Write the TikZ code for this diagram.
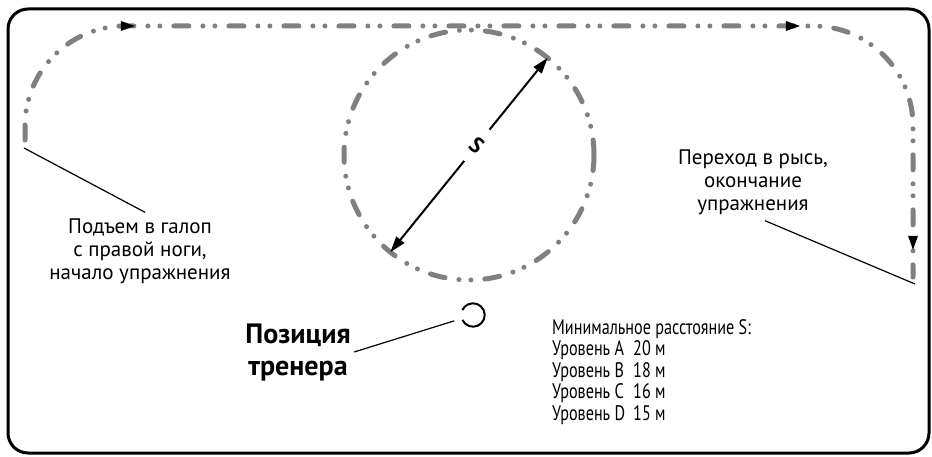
\documentclass[tikz,border=0pt]{standalone}
\usepackage{fontspec}
\setmainfont{PT Sans}
\newfontfamily\narrowsans{PT Sans}[FakeStretch=0.77]
\usetikzlibrary{shapes,arrows.meta,decorations.markings}
\pgfdeclarelayer{bg}
\pgfsetlayers{bg,main}
\def\grey#1{rgb,255:red,#1;green,#1;blue,#1}
\def\tracktip{Triangle[length=14pt,width=10pt,line width=0pt]}
\tikzset{
  track/.style={draw=\grey{128},line width=5pt,line cap=round,
    dash pattern=on 15pt off 14pt on 0pt off 12pt on 0pt off 14pt},
  leader/.style={line width=1.2pt},
  caption/.style={align=center,inner sep=6pt,font=\fontsize{21}{23}\selectfont},
}

\begin{document}
\begin{tikzpicture}[x=1pt,y=1pt]
\useasboundingbox (0,0) rectangle (932,-457);

% Draw the frame...
\draw[line width=3pt,rounded corners=20pt] (8,-9) rectangle (929,-453);

% Draw the nodes...
\node (manege) at (   469,  -155) [shape=circle,minimum size=250pt,inner sep=0pt,outer sep=0pt,track] {};
\node (trainer) at (   473,  -315) [shape=circle,minimum size=23.4pt,inner sep=0pt,outer sep=0pt] {};
\coordinate (startpt) at (    24,  -148);
\coordinate (endpt) at (   915,  -284);
\node (startlbl) at (   140,  -251) [caption] {Подъем в галоп\\с правой ноги,\\начало упражнения};
\node (endlbl) at (   753,  -182) [caption] {Переход в рысь,\\окончание\\упражнения};
\node (coachlbl) at (   298,  -352) [align=center,font=\bfseries\fontsize{28}{32}\selectfont] {Позиция\\тренера};
\node (levels) at (   552,  -319) [anchor=north west,inner sep=0pt,align=left,font=\narrowsans\fontsize{21}{21.5}\selectfont]
  {Минимальное расстояние S:\\
   \makebox[81pt][l]{Уровень A}20 м\\
   \makebox[81pt][l]{Уровень B}18 м\\
   \makebox[81pt][l]{Уровень C}16 м\\
   \makebox[81pt][l]{Уровень D}15 м};

% Draw the edges...
\begin{pgfonlayer}{bg}
\draw[track,postaction={decorate,decoration={markings,
    mark=at position 181pt with {\arrow[black]{\tracktip}},
    mark=at position 846pt with {\arrow[black]{\tracktip}},
    mark=at position 1140pt with {\arrow[black]{\tracktip}}}}]
  (25,-140) -- (25,-126) arc[start angle=180,end angle=90,radius=100]
  -- (813,-26) arc[start angle=90,end angle=0,radius=100] -- (913,-277);
\end{pgfonlayer}

\draw[line width=2pt,{Triangle[length=16pt,width=10pt]}-{Triangle[length=16pt,width=10pt]}] (manege.231)
  -- node[pos=0.55,shape=circle,fill=white,inner sep=0pt,minimum size=40pt,rotate=-40,font=\bfseries\fontsize{22}{22}\selectfont] {S} (manege.51);
\draw[line width=2pt] (trainer.205) arc[start angle=205,end angle=515,radius=11.7pt];
\draw[leader,shorten >=8pt] (coachlbl.east) -- (trainer);
\draw[leader] ([xshift=5pt]startlbl.north) -- (startpt);
\draw[leader] ([xshift=12pt]endlbl.south) -- (endpt);

\end{tikzpicture}
\end{document}
